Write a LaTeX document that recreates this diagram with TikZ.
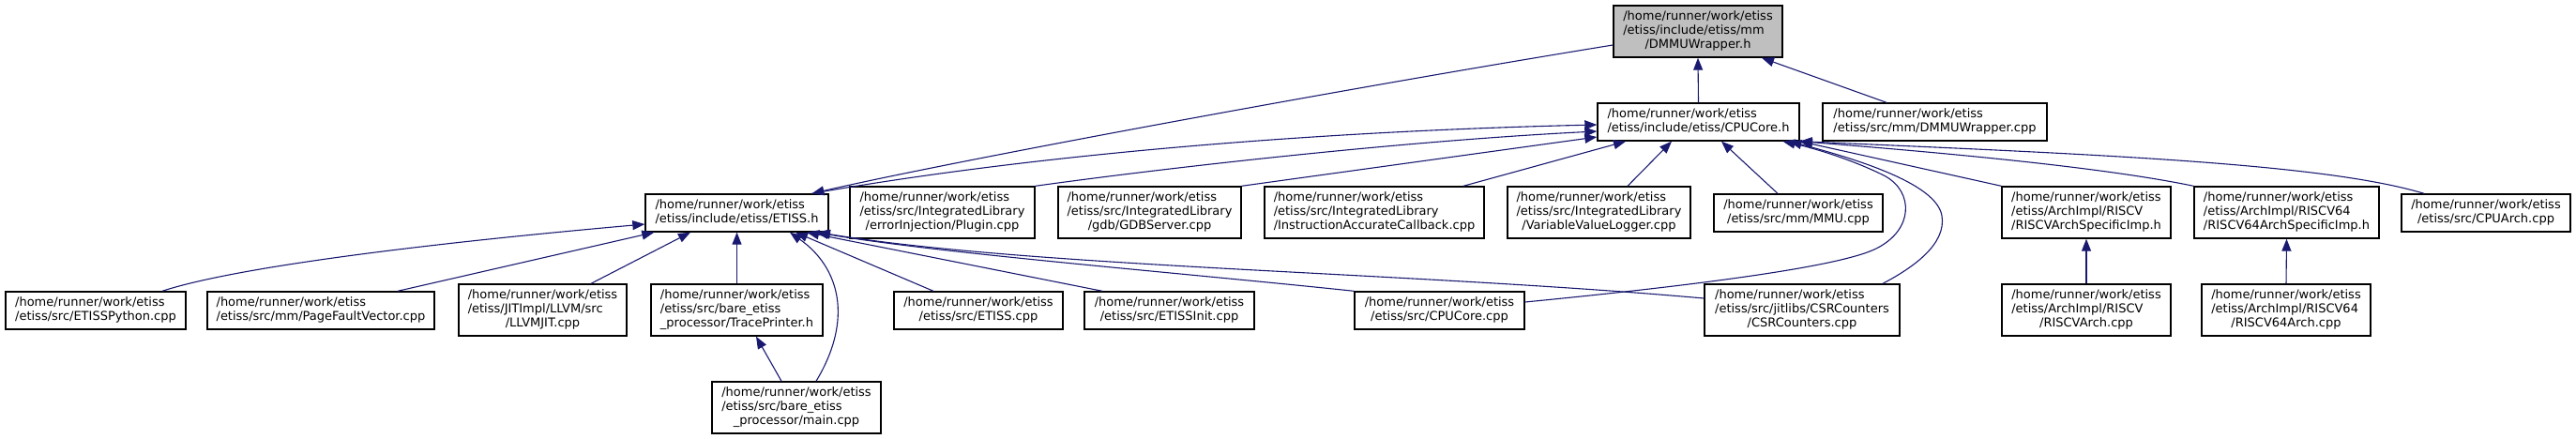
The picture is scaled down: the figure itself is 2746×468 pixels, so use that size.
\documentclass[tikz,border=0pt]{standalone}
\usepackage{fontspec}
\setmainfont{DejaVu Sans}
\usetikzlibrary{arrows.meta}
\definecolor{edgeblue}{RGB}{25,25,112}
\definecolor{rootgray}{RGB}{191,191,191}
\newcommand{\lblii}[2]{\begin{tabular}{@{}l@{}}#1\\\multicolumn{1}{@{}c@{}}{#2}\end{tabular}}
\newcommand{\lbliii}[3]{\begin{tabular}{@{}l@{}}#1\\#2\\\multicolumn{1}{@{}c@{}}{#3}\end{tabular}}
\newcommand{\hmpath}{/home/runner/work/etiss}
\tikzset{
  box/.style={draw=black, line width=1.4pt, fill=white, inner sep=0pt, text=black,
    font=\fontsize{13}{15}\selectfont},
  sz/.style 2 args={minimum width=#1pt, minimum height=#2pt},
  edge/.style={draw=edgeblue, line width=1.1pt, -{Triangle[length=13pt,width=10pt]}},
}
\begin{document}
\begin{tikzpicture}[x=1pt,y=-1pt]
\useasboundingbox (0,0) rectangle (2746,468);
% row 1
\node[box,sz={180}{55},fill=rootgray] (A) at (1810,33.5) {\lbliii{\hmpath}{/etiss/include/etiss/mm}{/DMMUWrapper.h}};
% row 2
\node[box,sz={215}{40}] (B) at (1810.5,130) {\lblii{\hmpath}{/etiss/include/etiss/CPUCore.h}};
\node[box,sz={239}{40}] (C) at (2062.5,130) {\lblii{\hmpath}{/etiss/src/mm/DMMUWrapper.cpp}};
% row 3
\node[box,sz={195}{40}] (D) at (785.5,227) {\lblii{\hmpath}{/etiss/include/etiss/ETISS.h}};
\node[box,sz={197}{55}] (E) at (1004.5,226.5) {\lbliii{\hmpath}{/etiss/src/IntegratedLibrary}{/errorInjection/Plugin.cpp}};
\node[box,sz={195}{55}] (F) at (1225.5,226.5) {\lbliii{\hmpath}{/etiss/src/IntegratedLibrary}{/gdb/GDBServer.cpp}};
\node[box,sz={234}{55}] (G) at (1465,226.5) {\lbliii{\hmpath}{/etiss/src/IntegratedLibrary}{/InstructionAccurateCallback.cpp}};
\node[box,sz={195}{55}] (H) at (1704.5,226.5) {\lbliii{\hmpath}{/etiss/src/IntegratedLibrary}{/VariableValueLogger.cpp}};
\node[box,sz={180}{40}] (I) at (1917,227) {\lblii{\hmpath}{/etiss/src/mm/MMU.cpp}};
\node[box,sz={180}{55}] (J) at (2224,226.5) {\lbliii{\hmpath}{/etiss/ArchImpl/RISCV}{/RISCVArchSpecificImp.h}};
\node[box,sz={197}{55}] (K) at (2437.5,226.5) {\lbliii{\hmpath}{/etiss/ArchImpl/RISCV64}{/RISCV64ArchSpecificImp.h}};
\node[box,sz={180}{40}] (L) at (2650,227) {\lblii{\hmpath}{/etiss/src/CPUArch.cpp}};
% row 4
\node[box,sz={192}{40}] (M) at (102,331) {\lblii{\hmpath}{/etiss/src/ETISSPython.cpp}};
\node[box,sz={242}{40}] (N) at (342,331) {\lblii{\hmpath}{/etiss/src/mm/PageFaultVector.cpp}};
\node[box,sz={179}{55}] (O) at (578.5,330.5) {\lbliii{\hmpath}{/etiss/JITImpl/LLVM/src}{/LLVMJIT.cpp}};
\node[box,sz={183}{55}] (P) at (785.5,330.5) {\lbliii{\hmpath}{/etiss/src/bare\_etiss}{\_processor/TracePrinter.h}};
\node[box,sz={180}{40}] (Q) at (1043,331) {\lblii{\hmpath}{/etiss/src/ETISS.cpp}};
\node[box,sz={181}{40}] (R) at (1246.5,331) {\lblii{\hmpath}{/etiss/src/ETISSInit.cpp}};
\node[box,sz={181}{40}] (S) at (1534.5,331) {\lblii{\hmpath}{/etiss/src/CPUCore.cpp}};
\node[box,sz={208}{55}] (T) at (1921,330.5) {\lbliii{\hmpath}{/etiss/src/jitlibs/CSRCounters}{/CSRCounters.cpp}};
\node[box,sz={180}{55}] (U) at (2224,330.5) {\lbliii{\hmpath}{/etiss/ArchImpl/RISCV}{/RISCVArch.cpp}};
\node[box,sz={180}{55}] (V) at (2437,330.5) {\lbliii{\hmpath}{/etiss/ArchImpl/RISCV64}{/RISCV64Arch.cpp}};
% row 5
\node[box,sz={180}{55}] (W) at (849,434.5) {\lbliii{\hmpath}{/etiss/src/bare\_etiss}{\_processor/main.cpp}};
% edges into DMMUWrapper.h
\draw[edge] (B.north) -- (A.south);
\draw[edge] ([xshift=-51.5pt]C.north) -- ([xshift=68pt]A.south);
\draw[edge] ([yshift=-14.5pt]A.west) .. controls (1400,100) and (1000,175) .. ([xshift=80pt]D.north);
% edges into CPUCore.h
\draw[edge] ([xshift=80pt]D.north) .. controls (1100,165) and (1400,140) .. ([yshift=-3pt]B.west);
\draw[edge] (E.north east) .. controls (1250,178) and (1500,150) .. ([yshift=-10pt]B.west);
\draw[edge] (F.north east) -- ([yshift=-16pt]B.west);
\draw[edge] ([xshift=95pt]G.north) -- ([xshift=-77.5pt]B.south);
\draw[edge] ([xshift=30.5pt]H.north) -- ([xshift=-28.5pt]B.south);
\draw[edge] ([xshift=-22pt]I.north) -- ([xshift=24.5pt]B.south);
\draw[edge] ([yshift=9pt]S.east) .. controls (1800,305) and (1960,285) .. (2000,265)
  .. controls (2040,245) and (2040,205) .. (2010,188)
  .. controls (1975,170) and (1930,157) .. ([xshift=90pt]B.south);
\draw[edge] ([xshift=86pt]T.north) .. controls (2040,285) and (2075,260) .. (2070,230)
  .. controls (2065,200) and (2000,175) .. ([xshift=97pt]B.south);
\draw[edge] (J.north west) -- (B.south east);
\draw[edge] (K.north west) .. controls (2250,180) and (2100,165) .. (B.south east);
\draw[edge] ([xshift=-66pt]L.north) .. controls (2480,175) and (2250,165) .. (B.south east);
\draw[edge] (U.north) -- (J.south);
\draw[edge] (V.north) -- (K.south);
% edges into ETISS.h
\draw[edge] ([xshift=71pt]M.north) .. controls (250,285) and (450,260) .. ([yshift=-12pt]D.west);
\draw[edge] ([xshift=82pt]N.north) -- ([xshift=10pt]D.south west);
\draw[edge] ([xshift=51.5pt]O.north) -- ([xshift=-49.5pt]D.south);
\draw[edge] (P.north) -- (D.south);
\draw[edge] ([xshift=-16pt]W.north) -- ([xshift=20.5pt]P.south);
\draw[edge] ([xshift=21pt]W.north) .. controls (910,340) and (895,285) .. ([xshift=56.5pt]D.south);
\draw[edge] ([xshift=-48pt]Q.north) -- ([xshift=62.5pt]D.south);
\draw[edge] ([xshift=-71.5pt]R.north) -- ([xshift=74.5pt]D.south);
\draw[edge] (S.north west) .. controls (1250,290) and (1000,270) .. ([xshift=84.5pt]D.south);
\draw[edge] ([yshift=12.5pt]T.west) .. controls (1500,290) and (1100,285) .. ([xshift=86.5pt]D.south);
\end{tikzpicture}
\end{document}
